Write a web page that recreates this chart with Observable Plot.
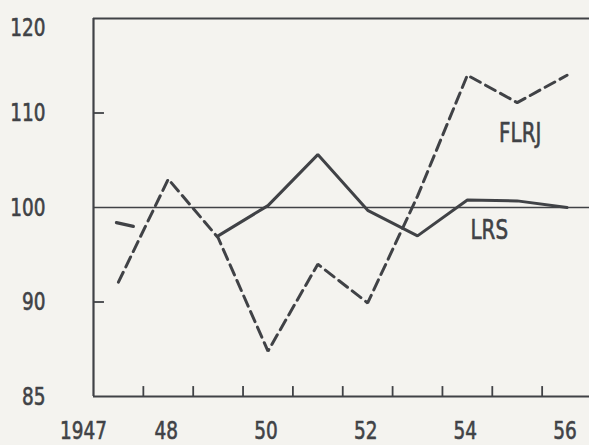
<!DOCTYPE html>
<html><head><meta charset="utf-8">
<script src="https://cdn.jsdelivr.net/npm/d3@7"></script>
<script src="https://cdn.jsdelivr.net/npm/@observablehq/plot@0.6"></script>
<style>
html,body{margin:0;padding:0;background:#f4f3ef;}
#chart svg{display:block;}
</style></head><body><div id="chart"></div>
<script>
// Data
const years = [1947, 1948, 1949, 1950, 1951, 1952, 1953, 1954, 1955, 1956];
const flrj = [92.1, 103.0, 96.8, 84.8, 94.0, 89.9, 101.2, 114.0, 111.1, 114.0];
const lrsYears = [1949, 1950, 1951, 1952, 1953, 1954, 1955, 1956];
const lrs = [97.0, 100.2, 105.6, 99.7, 97.0, 100.8, 100.7, 100.0];
const lrsStubYears = [1946.96, 1947.3];
const lrsStub = [98.4, 98.0];
const yTicks = [80, 90, 100, 110, 120];
const yTickLabels = ["85", "90", "100", "110", "120"];
const yInnerTicks = [90, 110];
const xBoundaryTicks = [1947.5, 1948.5, 1949.5, 1950.5, 1951.5, 1952.5, 1953.5, 1954.5, 1955.5];
const xLabelYears = [1948, 1950, 1952, 1954, 1956];
const xLabels = ["48", "50", "52", "54", "56"];
const firstYearLabel = "1947";
const seriesNames = ["FLRJ", "LRS"];
const seriesLabelYears = [1955.06, 1954.44];
const seriesLabelValues = [107.8, 97.6];

const ink = "#404246";
const font = "'Liberation Sans Narrow', 'DejaVu Sans Condensed', sans-serif";

const flrjData = years.map((y, i) => ({year: y, v: flrj[i]}));
const lrsData = lrsYears.map((y, i) => ({year: y, v: lrs[i]}));
const stubData = lrsStubYears.map((y, i) => ({year: y, v: lrsStub[i]}));
const yTickData = yTicks.map((t, i) => ({v: t, label: yTickLabels[i]}));
const xLabelData = xLabelYears.map((y, i) => ({year: y, label: xLabels[i]}));
const seriesLabelData = seriesNames.map((n, i) => ({name: n, year: seriesLabelYears[i], v: seriesLabelValues[i]}));

const xMin = 1946.5, xMax = 1956.45, yMin = 80, yMax = 120;
const txt = {fill: ink, stroke: ink, strokeWidth: 0.6};

const chart = Plot.plot({
  width: 589,
  height: 445,
  marginLeft: 93,
  marginRight: 0,
  marginTop: 18,
  marginBottom: 49,
  x: {domain: [xMin, xMax], axis: null},
  y: {domain: [yMin, yMax], axis: null},
  style: {background: "transparent", fontFamily: font, color: ink, overflow: "visible"},
  marks: [
    // frame: top, bottom, left
    Plot.ruleY([yMax, yMin], {x1: xMin, x2: xMax, stroke: ink, strokeWidth: 2.2}),
    Plot.ruleX([xMin], {y1: yMin, y2: yMax, stroke: ink, strokeWidth: 2.2}),
    // reference line at 100
    Plot.ruleY([100], {x1: xMin, x2: xMax, stroke: ink, strokeWidth: 1.6}),
    // inward ticks
    Plot.ruleY(yInnerTicks, {x1: xMin, x2: xMin + 0.22, stroke: ink, strokeWidth: 1.8}),
    Plot.ruleX(xBoundaryTicks, {y1: yMin, y2: yMin + 1.05, stroke: ink, strokeWidth: 1.8}),
    // series
    Plot.line(flrjData, {x: "year", y: "v", stroke: ink, strokeWidth: 3, strokeDasharray: "11,6", strokeLinejoin: "miter"}),
    Plot.line(lrsData, {x: "year", y: "v", stroke: ink, strokeWidth: 3, strokeLinejoin: "miter"}),
    Plot.line(stubData, {x: "year", y: "v", stroke: ink, strokeWidth: 3.2}),
    // series labels
    Plot.text(seriesLabelData, {x: "year", y: "v", text: "name", fontSize: 27, ...txt}),
    // y tick labels
    Plot.text(yTickData.filter(d => d.v !== yMax), {x: xMin, y: "v", text: "label", textAnchor: "end", dx: -48, fontSize: 25, ...txt}),
    Plot.text(yTickData.filter(d => d.v === yMax), {x: xMin, y: "v", text: "label", textAnchor: "end", dx: -48, dy: 9, fontSize: 25, ...txt}),
    // x tick labels
    Plot.text(xLabelData, {x: "year", y: yMin, text: "label", dy: 34, dx: -2, fontSize: 25, ...txt}),
    Plot.text([firstYearLabel], {x: years[0], y: yMin, text: d => d, dy: 34, dx: -35, fontSize: 25, ...txt})
  ]
});
document.getElementById("chart").appendChild(chart);
// condense glyphs to resemble the narrow DIN-like lettering of the original
chart.querySelectorAll("text").forEach(t => {
  const len = t.getComputedTextLength();
  if (len > 0) {
    t.setAttribute("textLength", (len * 0.82).toFixed(1));
    t.setAttribute("lengthAdjust", "spacingAndGlyphs");
  }
});
</script>
</body></html>
